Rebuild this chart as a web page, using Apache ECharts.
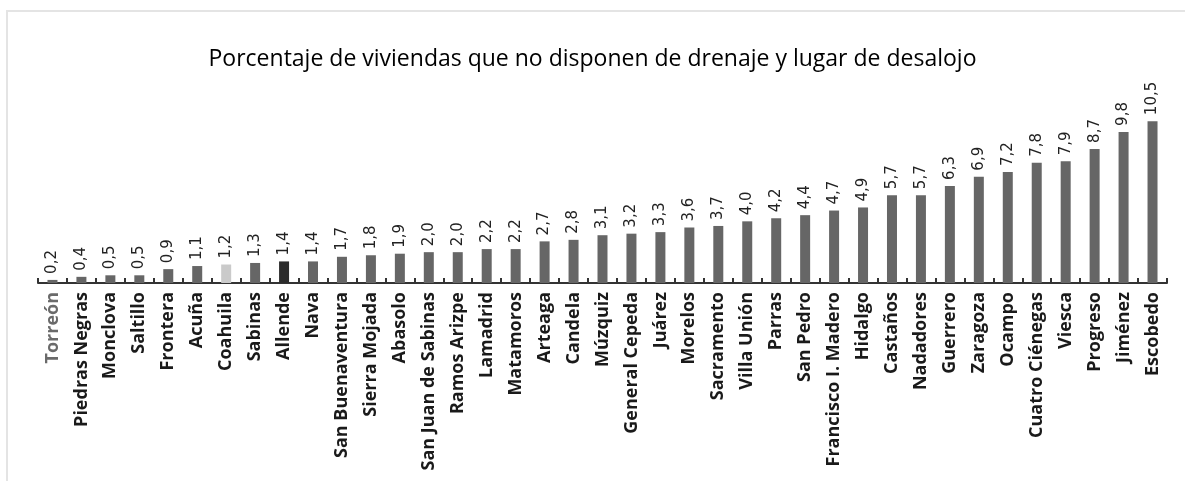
<!DOCTYPE html>
<html>
<head>
<meta charset="utf-8">
<script src="https://cdn.jsdelivr.net/npm/echarts@6/dist/echarts.min.js"></script>
<style>
  html, body { margin: 0; padding: 0; background: #fff; }
  #frame { position: absolute; left: 6px; top: 10px; width: 1185px; height: 480px;
           border-left: 2px solid #e4e4e4; border-top: 2px solid #e4e4e4; }
  #chart { position: absolute; left: 0; top: 0; width: 1185px; height: 481px; }
</style>
</head>
<body>
<div id="frame"></div>
<div id="chart"></div>
<script>
var municipios = ['Torreón', 'Piedras Negras', 'Monclova', 'Saltillo', 'Frontera', 'Acuña', 'Coahuila',
  'Sabinas', 'Allende', 'Nava', 'San Buenaventura', 'Sierra Mojada', 'Abasolo', 'San Juan de Sabinas',
  'Ramos Arizpe', 'Lamadrid', 'Matamoros', 'Arteaga', 'Candela', 'Múzquiz', 'General Cepeda', 'Juárez',
  'Morelos', 'Sacramento', 'Villa Unión', 'Parras', 'San Pedro', 'Francisco I. Madero', 'Hidalgo',
  'Castaños', 'Nadadores', 'Guerrero', 'Zaragoza', 'Ocampo', 'Cuatro Ciénegas', 'Viesca', 'Progreso',
  'Jiménez', 'Escobedo']
var porcentaje = [0.2, 0.4, 0.5, 0.5, 0.9, 1.1, 1.2, 1.3, 1.4, 1.4, 1.7, 1.8, 1.9, 2.0, 2.0, 2.2, 2.2,
  2.7, 2.8, 3.1, 3.2, 3.3, 3.6, 3.7, 4.0, 4.2, 4.4, 4.7, 4.9, 5.7, 5.7, 6.3, 6.9, 7.2, 7.8, 7.9, 8.7,
  9.8, 10.5]

// colores especiales: promedio estatal y Allende
var colorBarra = function (name) {
  if (name === 'Coahuila') return '#cacaca'
  if (name === 'Allende') return '#2b2b2b'
  return '#666666'
}

var chart = echarts.init(document.getElementById('chart'))
chart.setOption({
  animation: false,
  title: {
    text: 'Porcentaje de viviendas que no disponen de drenaje y lugar de desalojo',
    left: 'center',
    top: 43,
    textStyle: {
      color: '#000',
      fontFamily: 'Open Sans',
      fontWeight: 'normal',
      fontSize: 23
    }
  },
  grid: {
    left: 38,
    right: 18,
    top: 98,
    bottom: 198
  },
  xAxis: {
    type: 'category',
    data: municipios.map(function (m) {
      return m === 'Torreón' ? { value: m, textStyle: { color: '#6a6a6a' } } : m
    }),
    axisLine: {
      lineStyle: { color: '#333', width: 2 }
    },
    axisTick: {
      show: true,
      inside: true,
      length: 5,
      interval: 0,
      lineStyle: { color: '#333', width: 2 }
    },
    axisLabel: {
      interval: 0,
      rotate: 90,
      margin: 9,
      color: '#1a1a1a',
      fontFamily: 'Open Sans',
      fontWeight: 'bold',
      fontSize: 18
    }
  },
  yAxis: {
    type: 'value',
    min: 0,
    max: 12,
    show: false,
    splitLine: { show: false }
  },
  series: [{
    type: 'bar',
    barWidth: 10,
    data: porcentaje.map(function (v, i) {
      return { value: v, itemStyle: { color: colorBarra(municipios[i]) } }
    }),
    label: {
      show: true,
      position: 'top',
      rotate: 90,
      align: 'left',
      verticalAlign: 'middle',
      distance: 6,
      color: '#222',
      fontFamily: 'DejaVu Sans',
      fontSize: 15,
      formatter: function (p) {
        return p.value.toFixed(1).replace('.', ',')
      }
    }
  }]
})
</script>
</body>
</html>
